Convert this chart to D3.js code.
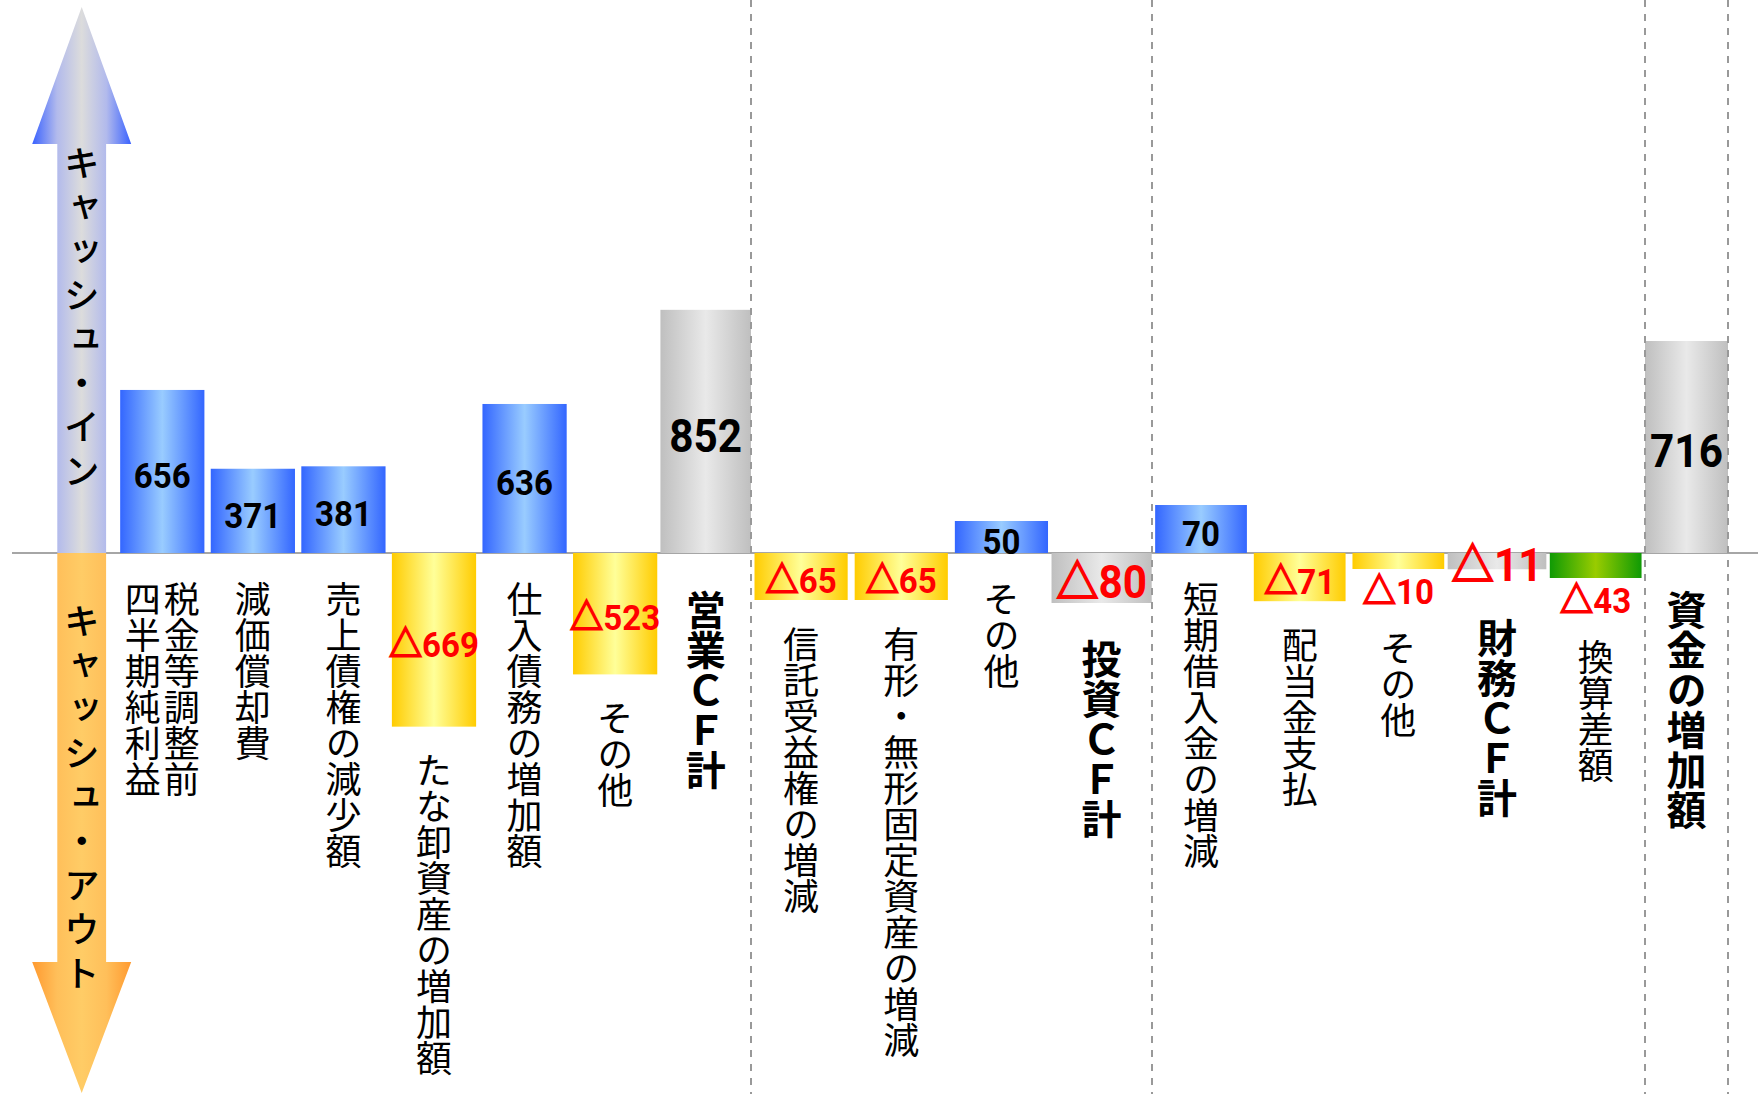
<!DOCTYPE html>
<html lang="ja">
<head>
<meta charset="utf-8">
<script src="https://cdn.jsdelivr.net/npm/d3@7"></script>
<style>
  html, body { margin: 0; padding: 0; background: #fff; }
  svg { display: block; }
  .cat { font-family: "Noto Sans CJK JP", sans-serif; font-size: 36px; fill: #000; writing-mode: vertical-rl; }
  .cat.total { font-weight: bold; font-size: 40px; }
  .flow { font-family: "Noto Sans CJK JP", sans-serif; font-size: 36px; font-weight: 500; fill: #000; writing-mode: vertical-rl; letter-spacing: 8px; }
  .val { font-family: Roboto, "Liberation Sans", sans-serif; font-weight: bold; }
  .val .tri { font-family: "Noto Sans CJK JP", sans-serif; font-weight: bold; stroke: #ff0000; stroke-width: 1.8px; }
</style>
</head>
<body>
<svg id="chart" width="1758" height="1094"></svg>
<script>
// Cash-flow bridge (百万円): operating, investing, financing items and their totals
const categories = [
  "税金等調整前\n四半期純利益", "減価償却費", "売上債権の減少額", "たな卸資産の増加額",
  "仕入債務の増加額", "その他", "営業ＣＦ計",
  "信託受益権の増減", "有形・無形固定資産の増減", "その他", "投資ＣＦ計",
  "短期借入金の増減", "配当金支払", "その他", "財務ＣＦ計",
  "換算差額", "資金の増加額"
];
const values = [656, 371, 381, -669, 636, -523, 852, -65, -65, 50, -80, 70, -71, -10, -11, -43, 716];
// in = cash inflow item, out = outflow item, total = subtotal, fx = exchange difference
const kinds = ["in", "in", "in", "out", "in", "out", "total",
               "out", "out", "in", "total",
               "in", "out", "out", "total",
               "fx", "total"];
const sectionSizes = [7, 4, 5, 1];
const flowLabels = ["キャッシュ・イン", "キャッシュ・アウト"];

const W = 1758, H = 1094, baseY = 553;
const svg = d3.select("#chart");
const defs = svg.append("defs");

function hGradient(id, stops) {
  const g = defs.append("linearGradient").attr("id", id)
    .attr("x1", "0%").attr("x2", "100%").attr("y1", "0%").attr("y2", "0%");
  stops.forEach(([o, c]) => g.append("stop").attr("offset", o).attr("stop-color", c));
}
hGradient("g-in",    [[0, "#3366ff"], [0.5, "#99ccff"], [1, "#3366ff"]]);
hGradient("g-out",   [[0, "#ffcc00"], [0.5, "#ffff99"], [1, "#ffcc00"]]);
hGradient("g-total", [[0, "#bfbfbf"], [0.5, "#e9e9e9"], [1, "#bfbfbf"]]);
hGradient("g-fx",    [[0, "#0f9a05"], [0.5, "#99cc00"], [1, "#0f9a05"]]);
hGradient("g-up",    [[0, "#3a62ff"], [0.25, "#b2baec"], [0.5, "#dcdcdc"], [0.75, "#b2baec"], [1, "#3a62ff"]]);
hGradient("g-down",  [[0, "#ff9a30"], [0.25, "#ffbf5a"], [0.5, "#ffcc66"], [0.75, "#ffbf5a"], [1, "#ff9a30"]]);

// x: item index -> pixel, with a break at every section divider
const sectionIdx = Array.from(d3.cumsum([0, ...sectionSizes]));
const x = d3.scaleLinear().domain(sectionIdx).range([117, 751, 1151.7, 1645, 1728]);

// y: value -> pixel, small amounts stretched so they stay legible
const knots = [0, 10, 43, 65, 80, 370, 640, 716, 860];
const px    = [0, 16, 25, 47, 50, 84, 150, 212, 245];
const y = d3.scaleLinear()
  .domain([...knots.slice(1).reverse().map(k => -k), ...knots])
  .range([...px.slice(1).reverse().map(p => baseY + p), ...px.map(p => baseY - p)]);

// baseline
svg.append("line")
  .attr("x1", 12).attr("x2", W).attr("y1", y(0)).attr("y2", y(0))
  .attr("stroke", "#a6a6a6").attr("stroke-width", 2);

// layout for each item
const items = values.map((v, i) => {
  const kind = kinds[i];
  const pad = kind === "total" ? 0 : 0.035;
  const x0 = x(i + pad), x1 = x(i + 1 - pad);
  const yTop = Math.min(y(v), y(0)), yBot = Math.max(y(v), y(0));
  const fs = kind === "total" ? 46 : 36;
  const below = v < 0 && kind !== "total" && (yBot - yTop) < 30;
  const mid = below ? yBot + 22 : (yTop + yBot) / 2 + 4;
  const labelBottom = mid + 0.36 * fs;
  const catTop = v >= 0 ? y(0) + (kind === "total" ? 37 : 28)
                        : Math.max(yBot, labelBottom) + (kind === "total" ? 36 : 26);
  return { v, i, kind, x0, x1, yTop, yBot, fs, mid, catTop, cx: (x0 + x1) / 2, cat: categories[i] };
});

// bars
svg.append("g").selectAll("rect").data(items).join("rect")
  .attr("x", d => d.x0).attr("width", d => d.x1 - d.x0)
  .attr("y", d => d.yTop).attr("height", d => d.yBot - d.yTop)
  .attr("fill", d => `url(#g-${d.kind})`);

// section dividers
svg.append("g").selectAll("line").data(sectionIdx.slice(1)).join("line")
  .attr("x1", d => Math.round(x(d))).attr("x2", d => Math.round(x(d)))
  .attr("y1", 0).attr("y2", H)
  .attr("stroke", "#999").attr("stroke-width", 2).attr("stroke-dasharray", "7 7");

// value labels (negatives carry a △ mark)
const vals = svg.append("g").selectAll("text").data(items).join("text")
  .attr("class", "val")
  .attr("text-anchor", "middle")
  .attr("transform", d => `translate(${d.cx},${d.mid + 0.355 * d.fs}) scale(0.92,1)`)
  .attr("font-size", d => d.fs)
  .attr("fill", d => d.v < 0 ? "#ff0000" : "#000");
vals.filter(d => d.v < 0).append("tspan").attr("class", "tri").text("△");
vals.append("tspan").text(d => String(Math.abs(d.v)));

// category labels, written vertically (first line is the right-hand column)
const colGap = 39;
const catG = svg.append("g");
items.forEach(d => {
  const lines = d.cat.split("\n");
  lines.forEach((line, j) => {
    catG.append("text")
      .attr("class", d.kind === "total" ? "cat total" : "cat")
      .attr("x", d.cx + ((lines.length - 1) / 2 - j) * colGap)
      .attr("y", d.catTop)
      .text(line);
  });
});

// in / out arrows on the left
const ax = 81.7, shaft = 24.4, head = 49.5;
const upPts = [[ax, 7], [ax + head, 144], [ax + shaft, 144], [ax + shaft, y(0)],
               [ax - shaft, y(0)], [ax - shaft, 144], [ax - head, 144]];
const downPts = [[ax - shaft, y(0)], [ax + shaft, y(0)], [ax + shaft, 962], [ax + head, 962],
                 [ax, 1093], [ax - head, 962], [ax - shaft, 962]];
svg.append("polygon").attr("points", upPts.join(" ")).attr("fill", "url(#g-up)");
svg.append("polygon").attr("points", downPts.join(" ")).attr("fill", "url(#g-down)");

svg.append("text").attr("class", "flow").attr("x", ax).attr("y", 145).text(flowLabels[0]);
svg.append("text").attr("class", "flow").attr("x", ax).attr("y", 603).text(flowLabels[1]);
</script>
</body>
</html>
